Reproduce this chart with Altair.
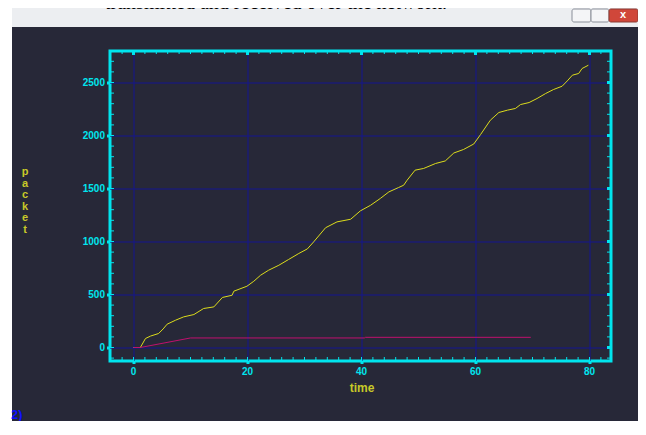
import altair as alt
import pandas as pd

# ---- data ----
time_sent = [0, 1.2, 2.1, 3.0, 4.4, 5.2, 5.9, 7.4, 8.8, 10.6, 12.3, 14.1, 15.6, 17.3, 17.6,
             19.9, 21.1, 22.3, 23.7, 25.5, 27.2, 29.0, 30.5, 31.6, 33.7, 35.7, 38.1, 39.8,
             41.6, 43.3, 44.8, 46.5, 47.4, 48.0, 49.4, 50.9, 53.0, 54.7, 56.2, 57.9, 59.7,
             60.9, 62.6, 64.1, 65.6, 67.0, 67.9, 69.4, 70.8, 72.3, 73.7, 75.2, 76.1, 77.0,
             78.1, 78.7, 79.8]
packets_sent = [0, 0, 85, 108, 132, 175, 220, 258, 289, 311, 368, 383, 472, 493, 531,
                578, 625, 682, 729, 776, 830, 887, 930, 996, 1130, 1185, 1210, 1289,
                1342, 1406, 1468, 1509, 1531, 1578, 1673, 1689, 1736, 1760, 1835, 1868, 1920,
                2010, 2144, 2217, 2239, 2255, 2292, 2311, 2349, 2396, 2434, 2465, 2515, 2569,
                2585, 2632, 2663]
time_recv = [0, 1.2, 10.0, 40.5, 40.7, 69.7]
packets_recv = [0, 0, 90, 90, 96, 96]

x_ticks = [0, 20, 40, 60, 80]
y_ticks = [0, 500, 1000, 1500, 2000, 2500]
x_minor = [-2, 0, 2, 4, 6, 8, 10, 12, 14, 16, 18, 20, 22, 24, 26, 28, 30, 32, 34, 36, 38, 40,
           42, 44, 46, 48, 50, 52, 54, 56, 58, 60, 62, 64, 66, 68, 70, 72, 74, 76, 78, 80, 82]
y_minor = [-100, 0, 100, 200, 300, 400, 500, 600, 700, 800, 900, 1000, 1100, 1200, 1300,
           1400, 1500, 1600, 1700, 1800, 1900, 2000, 2100, 2200, 2300, 2400, 2500, 2600, 2700]

page_text = "transmitted and received over the network."
corner_text = "2)"

# ---- style ----
W, H = 501, 310
BG = "#272838"
CYAN = "#00e5ee"
GRID = "#141490"
YEL = "#dcdc1c"
TITLE_YEL = "#c8c828"
MAG = "#c0106e"

# scale domains chosen so grid lines land on pixel centres (crisp like the reference)
X_PX, X0 = 5.7, 23.5       # px per time unit, px offset of time 0
Y_PX, Y0 = 0.106, 296.5    # px per packet, px offset (from top) of packet 0

df = pd.DataFrame({
    "time": time_sent + time_recv,
    "packet": packets_sent + packets_recv,
    "series": ["sent"] * len(time_sent) + ["received"] * len(time_recv),
})

xs = alt.Scale(domain=[-X0 / X_PX, (W - X0) / X_PX], nice=False, zero=False)
ys = alt.Scale(domain=[-(H - Y0) / Y_PX, Y0 / Y_PX], nice=False, zero=False)

x_axis = alt.Axis(
    values=x_ticks, format="d", title="time", grid=True, gridColor=GRID, gridWidth=1,
    translate=0,
    domain=False, tickColor=CYAN, tickSize=3, tickWidth=3,
    labelColor=CYAN, labelFont="Liberation Sans", labelFontSize=10,
    labelFontWeight="bold", labelPadding=3,
    titleColor=TITLE_YEL, titleFont="Liberation Sans", titleFontSize=12,
    titleFontWeight="bold", titleX=252, titleY=31, titleAlign="center",
    titleBaseline="alphabetic")
y_axis = alt.Axis(
    values=y_ticks, format="d", title=["p", "a", "c", "k", "e", "t"], grid=True,
    gridColor=GRID, gridWidth=1, translate=0, domain=False, tickColor=CYAN, tickSize=3,
    tickWidth=3,
    labelColor=CYAN, labelFont="Liberation Sans", labelFontSize=10,
    labelFontWeight="bold", labelPadding=2,
    titleColor=TITLE_YEL, titleFont="Liberation Sans", titleFontSize=11,
    titleFontWeight="bold", titleAngle=0, titleX=-85, titleY=115,
    titleAlign="center", titleBaseline="top", titleLineHeight=11.5)

one = pd.DataFrame({"k": [0]})

titlebar = alt.Chart(one).mark_rect(color="#eceef1").encode(
    x=alt.value(-102), x2=alt.value(528), y=alt.value(-43), y2=alt.value(-24))
leftstrip = alt.Chart(one).mark_rect(color="white").encode(
    x=alt.value(-102), x2=alt.value(-98), y=alt.value(-43), y2=alt.value(380))
btn_min = alt.Chart(one).mark_rect(color="#f4f5f7", stroke="#8a8f99", strokeWidth=1,
                                   cornerRadius=2).encode(
    x=alt.value(462), x2=alt.value(481), y=alt.value(-42), y2=alt.value(-29))
btn_max = alt.Chart(one).mark_rect(color="#f4f5f7", stroke="#8a8f99", strokeWidth=1,
                                   cornerRadius=2).encode(
    x=alt.value(481), x2=alt.value(499), y=alt.value(-42), y2=alt.value(-29))
btn_close = alt.Chart(one).mark_rect(color="#d0473a", stroke="#8a3a32", strokeWidth=1,
                                     cornerRadius=2).encode(
    x=alt.value(499), x2=alt.value(528), y=alt.value(-42), y2=alt.value(-29))
close_x = alt.Chart(one).mark_text(text="x", color="white", fontSize=11, fontWeight="bold",
                                   font="Liberation Sans", baseline="middle").encode(
    x=alt.value(513), y=alt.value(-36))
head = alt.Chart(one).mark_text(text=page_text, font="Liberation Serif", fontSize=20,
                                color="black", align="left", baseline="alphabetic").encode(
    x=alt.value(-5), y=alt.value(-42))
corner = alt.Chart(one).mark_text(text=corner_text, font="Liberation Sans", fontSize=13,
                                  fontWeight="bold", color="#1010ff", align="left",
                                  baseline="middle").encode(
    x=alt.value(-99), y=alt.value(364))

lines = alt.Chart(df).mark_line(strokeWidth=1).encode(
    x=alt.X("time:Q", scale=xs, axis=x_axis),
    y=alt.Y("packet:Q", scale=ys, axis=y_axis),
    color=alt.Color("series:N", scale=alt.Scale(domain=["sent", "received"],
                                                range=[YEL, MAG]), legend=None),
)

xm = pd.DataFrame({"time": x_minor})
ym = pd.DataFrame({"packet": y_minor})
xmaj = pd.DataFrame({"time": x_ticks})
ymaj = pd.DataFrame({"packet": y_ticks})

def xrule(data, y1, y2, w=1):
    return alt.Chart(data).mark_rule(color=CYAN, strokeWidth=w).encode(
        x=alt.X("time:Q", scale=xs, axis=x_axis), y=alt.value(y1), y2=alt.value(y2))

def yrule(data, x1, x2, w=1):
    return alt.Chart(data).mark_rule(color=CYAN, strokeWidth=w).encode(
        y=alt.Y("packet:Q", scale=ys, axis=y_axis), x=alt.value(x1), x2=alt.value(x2))

ticks = [
    xrule(xm, H - 4, H), xrule(xm, 0, 3),
    yrule(ym, 0, 4), yrule(ym, W - 4, W),
    xrule(xmaj, 0, 4, 3), yrule(ymaj, W - 4, W, 3),
]

chart = alt.layer(lines, titlebar, leftstrip, btn_min, btn_max, btn_close, close_x, head,
                  corner, *ticks).properties(
    width=W, height=H,
    autosize=alt.AutoSizeParams(type="none"),
    padding={"left": 102, "top": 43, "right": 27, "bottom": 60},
    background=BG,
).configure_view(stroke=CYAN, strokeWidth=3, fill=BG)

chart.save("out.html", embed_options={"renderer": "svg", "actions": False})
